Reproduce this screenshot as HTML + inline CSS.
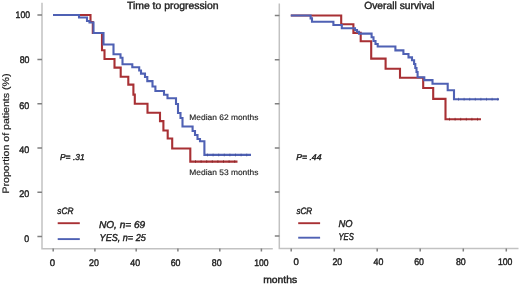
<!DOCTYPE html>
<html><head><meta charset="utf-8"><style>
html,body{margin:0;padding:0;background:#fff;width:520px;height:285px;overflow:hidden}
svg{display:block;text-rendering:geometricPrecision}
#w{width:520px;height:285px;will-change:transform}
text{font-family:"Liberation Sans",sans-serif;fill:#1e1e1e;stroke:#1e1e1e;stroke-width:0.42px}
.it{font-style:italic}
</style></head><body><div id="w">
<svg width="520" height="285" viewBox="0 0 520 285">
<rect width="520" height="285" fill="#fff"/>
<!-- axes -->
<g stroke="#c2c2c2" stroke-width="1.5" fill="none">
<path d="M42,2.8V248.8H272.8"/>
<path d="M279.3,3.6V248.4H518.5"/>
</g>
<g stroke="#808080" stroke-width="1.5" fill="none">
<path d="M37.4,15H42M37.4,59.4H42M37.4,103.8H42M37.4,148H42M37.4,192.3H42M37.4,236.6H42"/>
<path d="M274.8,15.6H279.4M274.8,59.7H279.4M274.8,103.8H279.4M274.8,147.9H279.4M274.8,192H279.4M274.8,236H279.4"/>
<path d="M53.2,248.6V251.6M94.9,248.6V251.6M136.2,248.6V251.6M177.9,248.6V251.6M219.8,248.6V251.6M261.4,248.6V251.6"/>
<path d="M291.2,248.6V251.6M334.3,248.6V251.6M377.2,248.6V251.6M420.2,248.6V251.6M463.3,248.6V251.6M506.3,248.6V251.6"/>
</g>
<!-- curves left -->
<g fill="none" stroke-width="2.1" stroke-linejoin="miter" stroke-linecap="butt">
<polyline stroke="#a83034" points="53,15 90.5,15 90.5,22 92.8,22 92.8,33 102,33 102,50.3 104.5,50.3 104.5,59 114.5,59 114.5,67.6 120.7,67.6 120.7,76.7 128.3,76.7 128.3,84.6 133.4,84.6 133.4,94.6 134.8,94.6 134.8,103.8 147.5,103.8 147.5,112.7 160,112.7 160,121.1 163.4,121.1 163.4,130.5 167.7,130.5 167.7,138.5 172.2,138.5 172.2,148.5 190.3,148.5 190.3,161.6 237.5,161.6"/>
<polyline stroke="#4f61b4" points="53,15 79,15 79,17.5 87,17.5 87,21 89.5,21 89.5,22.5 93.5,22.5 93.5,33 103.5,33 103.5,44.5 113.5,44.5 113.5,54.3 120.5,54.3 120.5,57.8 122.5,57.8 122.5,64.3 132.3,64.3 132.3,67.3 139.2,67.3 139.2,70.5 141,70.5 141,73.6 145,73.6 145,77 147.3,77 147.3,81.1 152.5,81.1 152.5,86.5 155.4,86.5 155.4,91 164,91 164,94.7 167.5,94.7 167.5,98.2 176,98.2 176,104 178,104 178,113 180.5,113 180.5,118 182.5,118 182.5,126.5 192.6,126.5 192.6,131 195,131 195,135 197.5,135 197.5,139 200,139 200,141.3 204.4,141.3 204.4,154.9 251,154.9"/>
<!-- curves right -->
<polyline stroke="#a83034" points="290.8,15.5 341.2,15.5 341.2,24.3 353.4,24.3 353.4,32.9 360.7,32.9 360.7,41.2 371.2,41.2 371.2,58.6 385.6,58.6 385.6,68.8 400,68.8 400,77.8 423.2,77.8 423.2,88 433.2,88 433.2,98.9 445.5,98.9 445.5,119.2 481,119.2"/>
<polyline stroke="#4f61b4" points="290.8,15.5 310.6,15.5 310.6,18.4 312,18.4 312,21.8 333.4,21.8 333.4,25 341.8,25 341.8,28.2 353.4,28.2 355,28.2 355,30 357,30 357,31.8 359,31.8 359,33.6 371.6,33.6 371.6,37.3 373.5,37.3 373.5,41 375.5,41 375.5,44 377.7,44 377.7,46.5 395.4,46.5 395.4,50.4 403.4,50.4 403.4,54 408.5,54 408.5,57.4 412,57.4 412,60.2 414.1,60.2 414.1,64 415.3,64 415.3,68 416.5,68 416.5,72 417.6,72 417.6,77.3 424.3,77.3 424.3,80.1 432.5,80.1 432.5,83.8 447.7,83.8 447.7,90.3 454,90.3 454,99.2 499,99.2"/>
<!-- censor marks -->
<g stroke-width="3" stroke-dasharray="1 4.6" opacity="0.5">
<path stroke="#3a468c" d="M207,154.9H251"/>
<path stroke="#6e1c1c" d="M195,161.6H237.5"/>
<path stroke="#3a468c" d="M458,99.2H499.5"/>
<path stroke="#6e1c1c" d="M449,119.2H481"/>
</g>
<!-- legend lines -->
<line x1="57.7" y1="223.2" x2="79.8" y2="223.2" stroke="#a83034" stroke-width="1.9"/>
<line x1="57.7" y1="239.1" x2="79.8" y2="239.1" stroke="#4f61b4" stroke-width="1.9"/>
<line x1="298.2" y1="223.2" x2="320.1" y2="223.2" stroke="#a83034" stroke-width="1.9"/>
<line x1="298.2" y1="237.7" x2="320.1" y2="237.7" stroke="#4f61b4" stroke-width="1.9"/>
</g>
<!-- titles -->
<text x="127" y="9.4" font-size="10.4" style="stroke-width:0.4px" textLength="91.5" lengthAdjust="spacingAndGlyphs">Time to progression</text>
<text x="364.2" y="9.4" font-size="10.4" style="stroke-width:0.4px" textLength="70.4" lengthAdjust="spacingAndGlyphs">Overall survival</text>
<text transform="translate(8.6,193.5) rotate(-90)" x="0" y="0" font-size="9.4" style="stroke-width:0.2px" textLength="120" lengthAdjust="spacingAndGlyphs">Proportion of patients (%)</text>
<!-- y tick labels -->
<g font-size="9.6" text-anchor="end" style="stroke-width:0.12px">
<text x="30" y="18.4" textLength="14.4" lengthAdjust="spacingAndGlyphs">100</text>
<text x="29.5" y="63.4" textLength="9.8" lengthAdjust="spacingAndGlyphs">80</text>
<text x="29.3" y="108.5" textLength="10" lengthAdjust="spacingAndGlyphs">60</text>
<text x="29.3" y="152.8" textLength="10" lengthAdjust="spacingAndGlyphs">40</text>
<text x="29.3" y="197.2" textLength="10" lengthAdjust="spacingAndGlyphs">20</text>
<text x="29.2" y="241.6" textLength="4.9" lengthAdjust="spacingAndGlyphs">0</text>
</g>
<!-- x tick labels -->
<g font-size="9.6" text-anchor="middle" style="stroke-width:0.15px">
<text x="52.4" y="265.5">0</text>
<text x="94" y="265.5" textLength="9.8" lengthAdjust="spacingAndGlyphs">20</text>
<text x="135.2" y="265.5" textLength="9.8" lengthAdjust="spacingAndGlyphs">40</text>
<text x="175.6" y="265.5" textLength="9.8" lengthAdjust="spacingAndGlyphs">60</text>
<text x="216.7" y="265.5" textLength="9.8" lengthAdjust="spacingAndGlyphs">80</text>
<text x="261.3" y="265.5" textLength="14.3" lengthAdjust="spacingAndGlyphs">100</text>
<text x="296.1" y="265.2">0</text>
<text x="337.3" y="265.2" textLength="9.8" lengthAdjust="spacingAndGlyphs">20</text>
<text x="378.4" y="265.2" textLength="9.8" lengthAdjust="spacingAndGlyphs">40</text>
<text x="419.1" y="265.2" textLength="9.8" lengthAdjust="spacingAndGlyphs">60</text>
<text x="460.8" y="265.2" textLength="9.8" lengthAdjust="spacingAndGlyphs">80</text>
<text x="505.2" y="265.2" textLength="14.5" lengthAdjust="spacingAndGlyphs">100</text>
</g>
<text x="263.2" y="283.3" font-size="10" textLength="34" lengthAdjust="spacingAndGlyphs">months</text>
<!-- annotations -->
<text x="189.3" y="119.6" font-size="8" style="stroke-width:0.15px" textLength="69.2" lengthAdjust="spacingAndGlyphs">Median 62 months</text>
<text x="189.3" y="175.1" font-size="8" style="stroke-width:0.15px" textLength="69.2" lengthAdjust="spacingAndGlyphs">Median 53 months</text>
<text class="it" x="60" y="159.9" font-size="8.5" textLength="24.6" lengthAdjust="spacingAndGlyphs">P= .31</text>
<text class="it" x="296.2" y="159.7" font-size="8.5" textLength="25.3" lengthAdjust="spacingAndGlyphs">P= .44</text>
<!-- legends -->
<text class="it" x="57.3" y="213.7" font-size="9.2" textLength="16.1" lengthAdjust="spacingAndGlyphs">sCR</text>
<text class="it" x="99" y="227.8" font-size="10" textLength="46.2" lengthAdjust="spacingAndGlyphs">NO, n= 69</text>
<text class="it" x="99.6" y="241.3" font-size="10" textLength="46.2" lengthAdjust="spacingAndGlyphs">YES, n= 25</text>
<text class="it" x="296.4" y="213.8" font-size="9.2" textLength="15.8" lengthAdjust="spacingAndGlyphs">sCR</text>
<text class="it" x="338.5" y="226.6" font-size="10" textLength="14" lengthAdjust="spacingAndGlyphs">NO</text>
<text class="it" x="338.5" y="240.1" font-size="10" textLength="15.3" lengthAdjust="spacingAndGlyphs">YES</text>
</svg></div>
</body></html>
